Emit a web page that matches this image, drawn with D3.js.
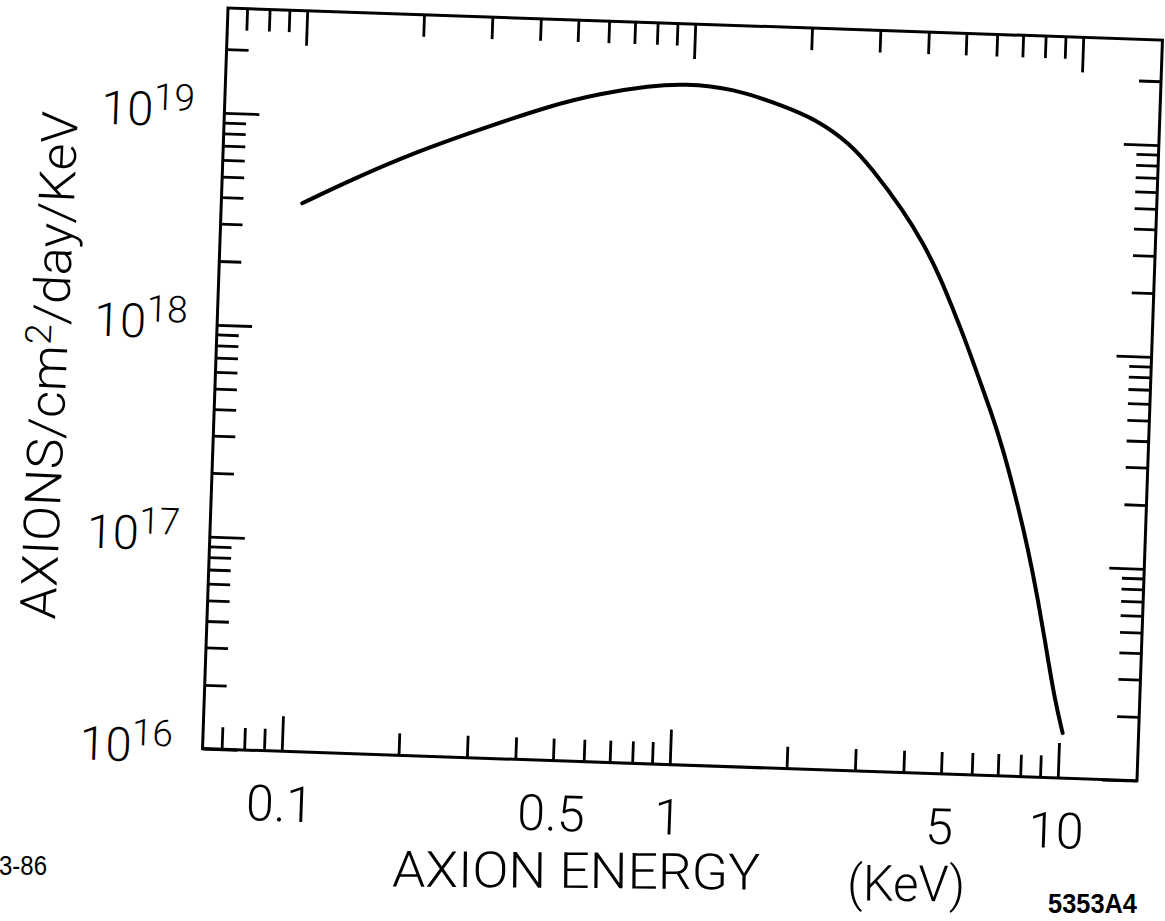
<!DOCTYPE html>
<html>
<head>
<meta charset="utf-8">
<script src="https://cdn.jsdelivr.net/npm/d3@7"></script>
<style>
  body { margin: 0; background: #fff; }
  svg { display: block; }
  .lbl { font-family: Roboto, "DejaVu Sans", sans-serif; font-weight: 300; fill: #000; }
  .stamp { font-family: "Liberation Sans", Arial, sans-serif; fill: #000; }
</style>
</head>
<body>
<script>
// Axion flux vs energy.
var energy = [0.101, 0.134, 0.197, 0.291, 0.430, 0.577, 0.775, 0.943, 1.27, 1.71,
              2.09, 2.56, 2.93, 3.56, 4.04, 4.49, 4.89, 5.33, 5.75, 6.27,
              6.77, 7.40, 8.01, 8.58, 9.11, 9.67, 10.2];
var flux = [3.86e18, 5.06e18, 7.06e18, 9.33e18, 1.22e19, 1.42e19, 1.57e19, 1.63e19, 1.58e19, 1.33e19,
            1.16e19, 9.08e18, 6.98e18, 4.49e18, 3.15e18, 2.21e18, 1.55e18, 1.08e18, 7.57e17, 5.11e17,
            3.45e17, 2.01e17, 1.18e17, 6.85e16, 4.00e16, 2.33e16, 1.63e16];

var xLabelValues = [0.1, 0.5, 1, 5, 10];
var xLabelText = ["0.1", "0.5", "1", "5", "10"];
var yExponents = [16, 17, 18, 19];

var w = 935, h = 741;

var svg = d3.select("body").append("svg")
  .attr("width", 1165)
  .attr("height", 921);

// the scan sits about 2 degrees off square
var g = svg.append("g").attr("transform", "translate(228,8) rotate(1.97)");

var x = d3.scaleLog().domain([0.0625, 16]).range([0, w]);
var y = d3.scaleLog().domain([1e16, Math.pow(10, 19.495)]).range([h, 0]);

function isMajor(v) {
  var l = Math.log10(v);
  return Math.abs(l - Math.round(l)) < 1e-6;
}

var xTicks = x.ticks();
var yTicks = y.ticks().filter(function(t){ return t <= 2.01e19; });

function drawTicks(axis, transform, attrName, sign) {
  var a = g.append("g").attr("transform", transform).call(axis.tickFormat(""));
  a.select(".domain").remove();
  a.selectAll(".tick line")
    .attr(attrName, function(d){ return sign * (isMajor(d) ? 35 : 22); })
    .attr("stroke", "#000")
    .attr("stroke-width", 2.8);
}

drawTicks(d3.axisBottom(x).tickValues(xTicks), "translate(0," + h + ")", "y2", -1);
drawTicks(d3.axisTop(x).tickValues(xTicks), "translate(0,0)", "y2", 1);
drawTicks(d3.axisLeft(y).tickValues(yTicks), "translate(0,0)", "x2", 1);
drawTicks(d3.axisRight(y).tickValues(yTicks), "translate(" + w + ",0)", "x2", -1);

// frame
g.append("rect")
  .attr("x", 0).attr("y", 0)
  .attr("width", w).attr("height", h)
  .attr("fill", "none")
  .attr("stroke", "#000")
  .attr("stroke-width", 3);

// spectrum curve
var line = d3.line()
  .x(function(d){ return x(d[0]); })
  .y(function(d){ return y(d[1]); })
  .curve(d3.curveBasis);

g.append("path")
  .datum(d3.zip(energy, flux))
  .attr("d", line)
  .attr("fill", "none")
  .attr("stroke", "#000")
  .attr("stroke-width", 4)
  .attr("stroke-linecap", "round");

// x tick labels
g.selectAll(".xl")
  .data(xLabelValues)
  .enter()
  .append("text")
    .attr("class", "lbl")
    .attr("x", function(d){ return x(d); })
    .attr("y", h + 70)
    .attr("text-anchor", "middle")
    .attr("font-size", 50)
    .text(function(d, i){ return xLabelText[i]; });

// y tick labels, 10 with superscript exponent
var yl = g.selectAll(".yl")
  .data(yExponents)
  .enter()
  .append("text")
    .attr("class", "lbl")
    .attr("x", -30)
    .attr("y", function(d){ return y(Math.pow(10, d)) + 15; })
    .attr("text-anchor", "end")
    .attr("font-size", 47);
yl.append("tspan").text("10");
yl.append("tspan")
  .attr("font-size", 37)
  .attr("dy", -16)
  .text(function(d){ return d; });

// axis titles
svg.append("text")
  .attr("class", "lbl")
  .attr("transform", "translate(576,888) rotate(0.5)")
  .attr("text-anchor", "middle")
  .attr("font-size", 50)
  .attr("textLength", 368)
  .attr("lengthAdjust", "spacingAndGlyphs")
  .text("AXION ENERGY");

svg.append("text")
  .attr("class", "lbl")
  .attr("transform", "translate(906,901) rotate(0.5)")
  .attr("text-anchor", "middle")
  .attr("font-size", 50)
  .attr("textLength", 118)
  .attr("lengthAdjust", "spacingAndGlyphs")
  .text("(KeV)");

var yt = svg.append("text")
  .attr("class", "lbl")
  .attr("transform", "translate(66.5,366) rotate(-87.4)")
  .attr("text-anchor", "middle")
  .attr("font-size", 50)
  .attr("textLength", 508)
  .attr("lengthAdjust", "spacingAndGlyphs");
yt.append("tspan").text("AXIONS/cm");
yt.append("tspan").attr("font-size", 36).attr("dy", -17).text("2");
yt.append("tspan").attr("dy", 17).text("/day/KeV");

// drawing stamps
svg.append("text")
  .attr("class", "stamp")
  .attr("x", 1048).attr("y", 913)
  .attr("font-size", 27)
  .attr("font-weight", "bold")
  .attr("textLength", 89)
  .attr("lengthAdjust", "spacingAndGlyphs")
  .text("5353A4");

svg.append("text")
  .attr("class", "stamp")
  .attr("x", -1).attr("y", 875)
  .attr("font-size", 28)
  .attr("textLength", 48)
  .attr("lengthAdjust", "spacingAndGlyphs")
  .text("3-86");
</script>
</body>
</html>
